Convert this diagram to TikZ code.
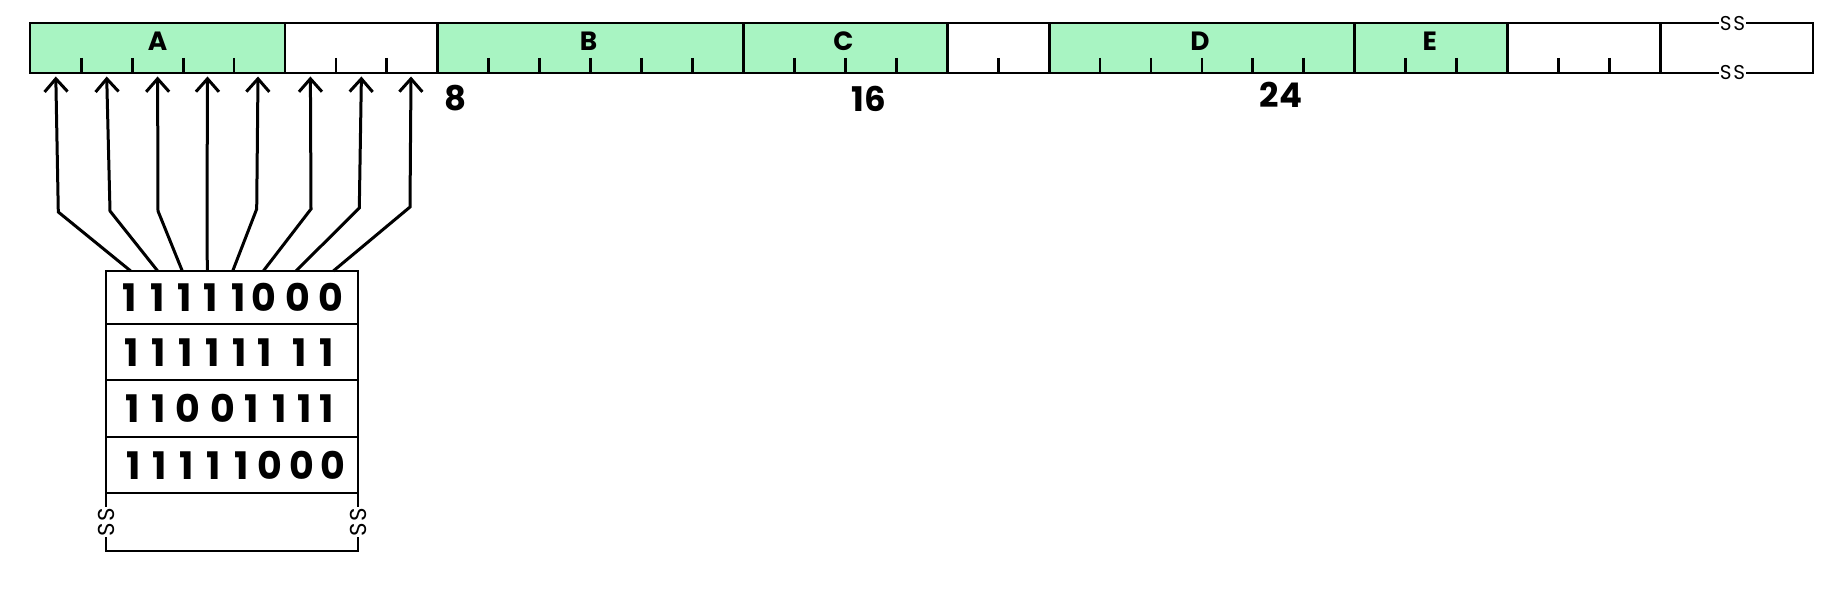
\documentclass[tikz,border=0pt]{standalone}
\usepackage{fontspec}
\setmainfont{Poppins}
\newfontfamily\semib{Poppins SemiBold}
\usetikzlibrary{arrows.meta}
\definecolor{fld}{HTML}{A8F4C2}
\tikzset{
  fieldlabel/.style={font=\fontsize{13.2}{14}\selectfont\bfseries, inner sep=0pt},
  numlabel/.style={font=\fontsize{17}{18}\selectfont\bfseries, inner sep=0pt},
  bit/.style={font=\fontsize{19}{20}\selectfont\bfseries, inner sep=0pt},
  brk/.style={font=\fontsize{10}{11}\selectfont, fill=white, inner sep=0.3pt},
  brkv/.style={font=\fontsize{11.5}{12}\selectfont, fill=white, inner sep=0.3pt, rotate=90},
  conn/.style={line width=1.5pt, -{Straight Barb[length=6.5pt,width=11.5pt,line width=1.5pt]}},
}
\begin{document}
\begin{tikzpicture}[x=0.5pt,y=-0.5pt]
\useasboundingbox (0,0) rectangle (1839,598);
\def\xa{30.3}\def\cw{50.94}
% green fields
\foreach \s/\e in {0/5,8/14,14/18,20/26,26/29}{
  \fill[fld] ({\xa+\s*\cw},22.8) rectangle ({\xa+\e*\cw},73);
}
% outer border
\draw[line width=1pt] (\xa,22.8) rectangle ({\xa+35*\cw},73);
% separators
\foreach \b in {5,8,14,18,20,26,29,32}{
  \draw[line width=1.4pt] ({\xa+\b*\cw},22.8) -- ({\xa+\b*\cw},73);
}
% ticks
\foreach \t in {1,2,3,4,6,7,9,10,11,12,13,15,16,17,19,21,22,23,24,25,27,28,30,31}{
  \draw[line width=1.4pt] ({\xa+\t*\cw},58) -- ({\xa+\t*\cw},73);
}
% field labels
\node[fieldlabel] (lA) at (157.5,41) {A};
\node[fieldlabel] (lB) at (588.6,41) {B};
\node[fieldlabel] (lC) at (843.3,41) {C};
\node[fieldlabel] (lD) at (1200,41) {D};
\node[fieldlabel] (lE) at (1429.7,41) {E};
% bit numbers
\node[numlabel] (n8) at (456,98.5) {8};
\node[numlabel] (n16) at (869,98.5) {16};
\node[numlabel] (n24) at (1281,94.5) {24};
% break marks on top bar
\node[brk] (bt) at (1732.5,23.5) {S\kern0.8pt S};
\node[brk] (bb) at (1732.5,72.5) {S\kern0.8pt S};
% byte box
\draw[line width=1pt] (106.3,271) rectangle (358.3,551);
\foreach \yy in {324.3,380.3,437.3,493.3}{
  \draw[line width=1pt] (106.3,\yy) -- (358.3,\yy);
}
\node[brkv] (bl) at (106.3,522) {S\kern0.5pt S};
\node[brkv] (br) at (358.3,522) {S\kern0.5pt S};
% bits rows
\foreach \d/\x [count=\i] in {1/129.3,1/157.7,1/184.3,1/211,1/238.3,0/264.3,0/298.3,0/330.7}
  \node[bit] (ra\i) at (\x,297.7) {\d};
\foreach \d/\x [count=\i] in {1/131.7,1/158.3,1/186,1/212.7,1/239.3,1/265,1/299.3,1/326.7}
  \node[bit] (rb\i) at (\x,352.3) {\d};
\foreach \d/\x [count=\i] in {1/132.7,1/158.3,0/188.3,0/222.7,1/251.7,1/280,1/305,1/326.7}
  \node[bit] (rc\i) at (\x,408.8) {\d};
\foreach \d/\x [count=\i] in {1/133.3,1/160,1/186.7,1/213.3,1/241.7,0/270,0/301.7,0/333.3}
  \node[bit] (rd\i) at (\x,465.3) {\d};
% arrows: start on box top, bend, tip under bar cell
\foreach \sx/\bx/\by/\tx [count=\i] in {
  130.7/58.3/212/55.8,
  157.7/110/211/106.7,
  182.3/158/211/157.6,
  207.3/207/210/207.5,
  232.7/256.7/209/258,
  263.3/311/209/310.4,
  296/359.3/208/361.4,
  333.3/410/207/411}{
  \coordinate (s\i) at (\sx,271);
  \coordinate (k\i) at (\bx,\by);
  \coordinate (t\i) at (\tx,76.5);
  \draw[conn] (s\i) -- (k\i) -- (t\i);
}
\end{tikzpicture}
\end{document}
